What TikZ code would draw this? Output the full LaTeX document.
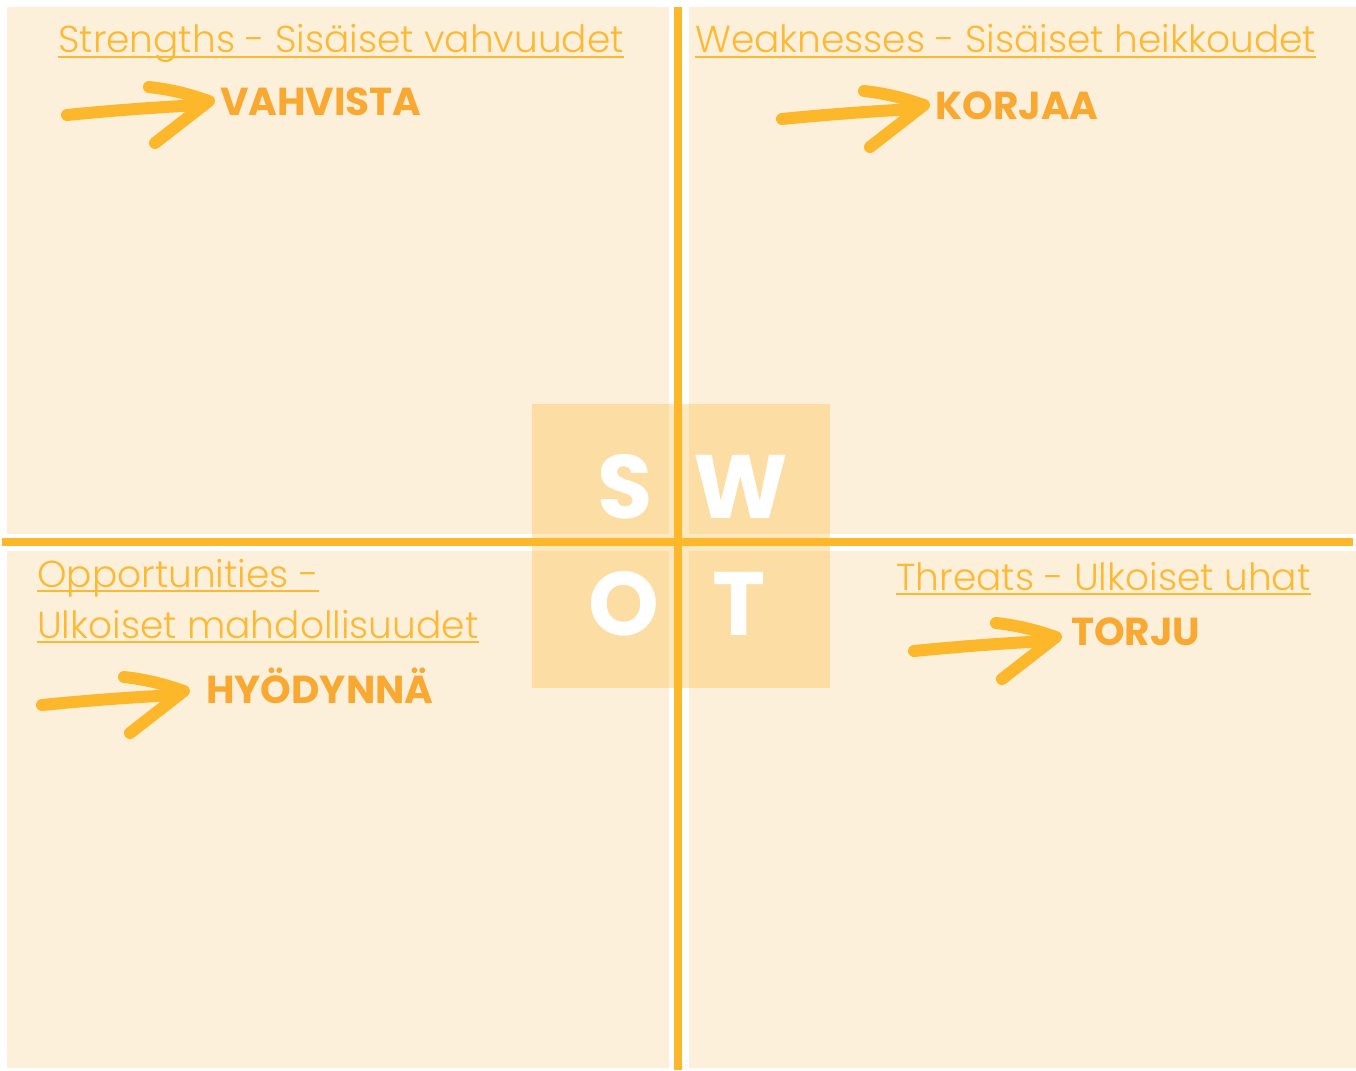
\documentclass[tikz,border=0pt]{standalone}
\usepackage{fontspec}
\setmainfont{Poppins}
\newfontfamily\lightfont{Poppins}[UprightFont=* Light]
\definecolor{panel}{HTML}{FCF0DB}
\definecolor{orng}{HTML}{FDB72A}
\definecolor{headc}{HTML}{FDB933}
\definecolor{labc}{HTML}{F9A932}
\tikzset{
  panelbox/.style={fill=panel, draw=none},
  axis/.style={draw=orng, line width=8pt},
  heading/.style={anchor=base west, inner sep=0pt, text=headc, font=\lightfont\fontsize{37.5}{42}\selectfont},
  action/.style={anchor=west, inner sep=0pt, text=labc, font=\bfseries\fontsize{39}{42}\selectfont},
  letter/.style={inner sep=0pt, text=white, font=\bfseries\fontsize{90}{96}\selectfont},
  uline/.style={draw=headc, line width=1.6pt},
  brush/.style={draw=orng, line width=12pt, line cap=round, line join=round},
}
\newcommand{\brusharrow}[2]{%
  \begin{scope}[shift={(#1,#2)}]
    \draw[brush] (0,10) .. controls (40,6) and (90,2) .. (135,0);
    \draw[brush] (82,-18) .. controls (110,-15) and (130,-8) .. (142,-4) -- (88,38);
  \end{scope}}
\begin{document}
\begin{tikzpicture}[x=1pt,y=-1pt]
\useasboundingbox[fill=white] (0,0) rectangle (1356,1070);
% panels
\path[panelbox] (7,7) rectangle (669,534);
\path[panelbox] (689,7) rectangle (1356,534);
\path[panelbox] (7,551) rectangle (669,1068);
\path[panelbox] (689,551) rectangle (1356,1068);
% centre box
\path[fill=orng, fill opacity=0.3] (532,404) rectangle (830,688);
% axes
\coordinate (vtop) at (678,7);
\coordinate (vbot) at (678,1070);
\coordinate (hl) at (2,542);
\coordinate (hr) at (1353,542);
\draw[axis] (vtop) -- (vbot);
\draw[axis] (hl) -- (hr);
% letters
\node[letter] (S) at (625,487) {S};
\node[letter] (W) at (741,487) {W};
\node[letter] (O) at (624,604) {O};
\node[letter] (T) at (739,604) {T};
% headings
\node[heading] (hS) at (58,53) {Strengths - Sisäiset vahvuudet};
\draw[uline] ([yshift=-4pt]hS.base west) -- ([yshift=-4pt]hS.base east);
\node[heading] (hW) at (695,53) {Weaknesses - Sisäiset heikkoudet};
\draw[uline] ([yshift=-4pt]hW.base west) -- ([yshift=-4pt]hW.base east);
\node[heading] (hO1) at (37,587) {Opportunities -};
\draw[uline] ([yshift=-4pt]hO1.base west) -- ([yshift=-4pt]hO1.base east);
\node[heading] (hO2) at (37,638) {Ulkoiset mahdollisuudet};
\draw[uline] ([yshift=-4pt]hO2.base west) -- ([yshift=-4pt]hO2.base east);
\node[heading] (hT) at (896,590) {Threats - Ulkoiset uhat};
\draw[uline] ([yshift=-4pt]hT.base west) -- ([yshift=-4pt]hT.base east);
% actions
\node[action] (aS) at (220,102) {VAHVISTA};
\node[action] (aW) at (935,106) {KORJAA};
\node[action] (aO) at (206,686) {HYÖDYNNÄ};
\node[action] (aT) at (1071,632) {TORJU};
% arrows
\brusharrow{67}{105}
\brusharrow{782}{109}
\brusharrow{42}{695}
\brusharrow{914}{641}
\end{tikzpicture}
\end{document}
